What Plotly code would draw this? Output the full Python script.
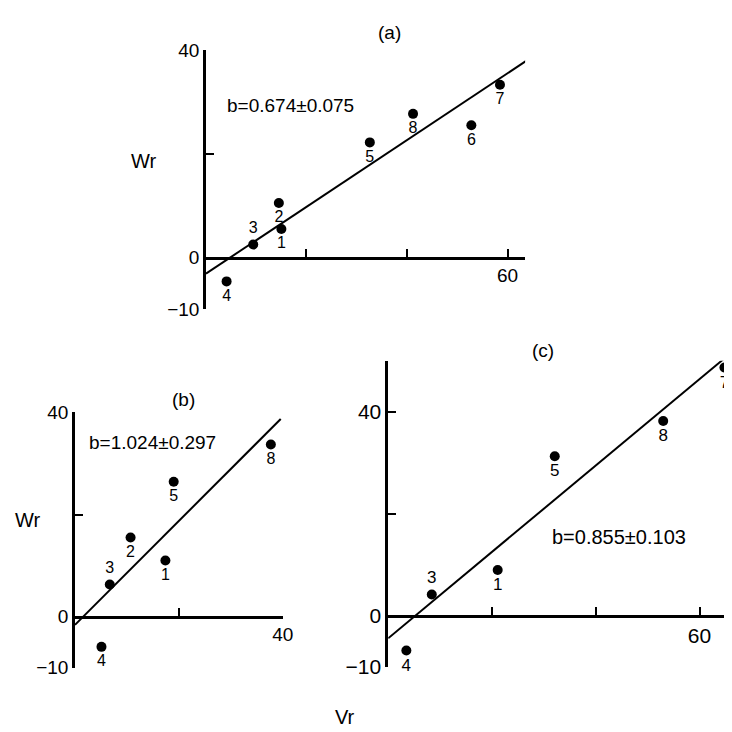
import plotly.graph_objects as go

W = H = 732

# ---------------- data ----------------
# panel (a)
a_ids = ["1", "2", "3", "4", "5", "6", "7", "8"]
a_vr = [15.0, 14.5, 9.4, 4.1, 32.6, 52.8, 58.5, 41.2]
a_wr = [5.5, 10.5, 2.5, -4.6, 22.2, 25.5, 33.3, 27.7]
a_fit_vr = [0, 64]
a_fit_wr = [-3.1, 38.1]
a_slope = "b=0.674±0.075"

# panel (b)
b_ids = ["1", "2", "3", "4", "5", "8"]
b_vr = [17.4, 10.7, 6.7, 5.1, 19.0, 37.7]
b_wr = [11.0, 15.5, 6.3, -5.9, 26.4, 33.7]
b_fit_vr = [0, 39.6]
b_fit_wr = [-1.6, 38.7]
b_slope = "b=1.024±0.297"

# panel (c)
c_ids = ["1", "3", "4", "5", "7", "8"]
c_vr = [21.1, 8.4, 3.5, 32.1, 64.8, 53.0]
c_wr = [9.0, 4.2, -6.8, 31.3, 48.7, 38.2]
c_fit_vr = [0, 66]
c_fit_wr = [-4.4, 51.5]
c_slope = "b=0.855±0.103"

# tick definitions
a_xticks = [20, 40, 60]
a_xlabels = ["", "", "60"]
a_yticks = [-10, 0, 20, 40]
a_ylabels = ["−10", "0", "", "40"]

b_xticks = [20, 40]
b_xlabels = ["", "40"]
b_yticks = [-10, 0, 20, 40]
b_ylabels = ["−10", "0", "", "40"]

c_xticks = [20, 40, 60]
c_xlabels = ["", "", "60"]
c_yticks = [-10, 0, 20, 40, 50]
c_ylabels = ["−10", "0", "", "40", ""]

# ---------------- layout helpers ----------------
FONT = "Liberation Sans, Arial, sans-serif"


def px_x(p):
    return p / W


def px_y(p):
    return 1 - p / H


fig = go.Figure()

panels = [
    dict(ax="", ids=a_ids, vr=a_vr, wr=a_wr, fvr=a_fit_vr, fwr=a_fit_wr,
         xpix=(201, 525), ypix=(300, 33), xr=[0, 63.5], yr=[-10, 40],
         xt=a_xticks, xl=a_xlabels, yt=a_yticks, yl=a_ylabels,
         pos=["bottom center", "bottom center", "top center", "bottom center",
              "bottom center", "bottom center", "bottom center", "bottom center"],
         tf=19, lf=16),
    dict(ax="2", ids=b_ids, vr=b_vr, wr=b_wr, fvr=b_fit_vr, fwr=b_fit_wr,
         xpix=(68, 279), ypix=(669, 406), xr=[0, 40], yr=[-10, 40],
         xt=b_xticks, xl=b_xlabels, yt=b_yticks, yl=b_ylabels,
         pos=["bottom center", "bottom center", "top center", "bottom center",
              "bottom center", "bottom center"],
         tf=19, lf=16),
    dict(ax="3", ids=c_ids, vr=c_vr, wr=c_wr, fvr=c_fit_vr, fwr=c_fit_wr,
         xpix=(386, 730), ypix=(668, 353), xr=[0, 65.3], yr=[-10, 50],
         xt=c_xticks, xl=c_xlabels, yt=c_yticks, yl=c_ylabels,
         pos=["bottom center", "top center", "bottom center", "bottom center",
              "bottom center", "bottom center"],
         tf=21, lf=17),
]

layout_axes = {}
for p in panels:
    xa = "x" + p["ax"]
    ya = "y" + p["ax"]
    fig.add_trace(go.Scatter(
        x=p["fvr"], y=p["fwr"], mode="lines",
        line=dict(color="black", width=2),
        xaxis=xa, yaxis=ya, showlegend=False, hoverinfo="skip"))
    fig.add_trace(go.Scatter(
        x=p["vr"], y=p["wr"], mode="markers+text",
        text=p["ids"], textposition=p["pos"],
        textfont=dict(family=FONT, size=p["lf"], color="black"),
        marker=dict(color="black", size=10),
        cliponaxis=False,
        xaxis=xa, yaxis=ya, showlegend=False))

    xd = [px_x(p["xpix"][0]), px_x(p["xpix"][1])]
    yd = [px_y(p["ypix"][0]), px_y(p["ypix"][1])]
    y0, y1 = p["yr"]
    xpos = yd[0] + (0 - y0) / (y1 - y0) * (yd[1] - yd[0])

    common = dict(showline=True, linecolor="black", linewidth=2.5,
                  ticks="inside", ticklen=8, tickwidth=2, tickcolor="black",
                  showgrid=False, zeroline=False,
                  tickfont=dict(family=FONT, size=p["tf"], color="black"))
    layout_axes["xaxis" + p["ax"]] = dict(
        domain=xd, range=p["xr"], anchor="free", position=xpos,
        tickmode="array", tickvals=p["xt"], ticktext=p["xl"], **common)
    layout_axes["yaxis" + p["ax"]] = dict(
        domain=yd, range=p["yr"], anchor=xa,
        tickmode="array", tickvals=p["yt"], ticktext=p["yl"], **common)

texts = [
    ("(a)", 387, 15, 19),
    (a_slope, 287, 90, 19),
    ("Wr", 138, 147, 20),
    ("(b)", 178, 393, 19),
    (b_slope, 147, 437, 19),
    ("Wr", 20, 517, 20),
    ("(c)", 543, 342, 19),
    (c_slope, 620, 534, 20),
    ("Vr", 342, 720, 20),
]
annotations = [
    dict(text=t, x=px_x(x), y=px_y(y), xref="paper", yref="paper",
         xanchor="center", yanchor="middle", showarrow=False,
         font=dict(family=FONT, size=s, color="black"))
    for t, x, y, s in texts
]

fig.update_layout(
    width=W, height=H,
    margin=dict(l=0, r=0, t=0, b=0),
    paper_bgcolor="white", plot_bgcolor="white",
    annotations=annotations,
    **layout_axes,
)

fig.write_html("out.html")
